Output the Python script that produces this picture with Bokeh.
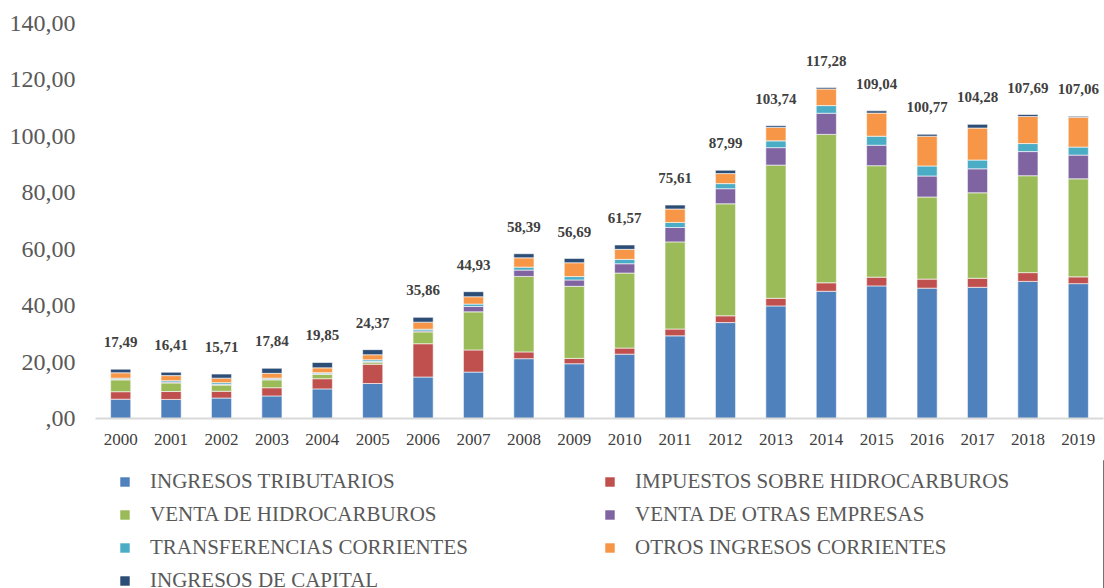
from bokeh.plotting import figure
from bokeh.models import ColumnDataSource, FactorRange, Legend, LegendItem, Range1d
from bokeh.layouts import column
from bokeh.core.properties import value
from bokeh.embed import file_html
from bokeh.resources import INLINE

years = ["2000", "2001", "2002", "2003", "2004", "2005", "2006", "2007", "2008", "2009",
         "2010", "2011", "2012", "2013", "2014", "2015", "2016", "2017", "2018", "2019"]

ingresos_tributarios = [6.85, 6.76, 7.25, 8.00, 10.50, 12.40, 14.70, 16.45, 21.20, 19.40,
                        22.80, 29.30, 34.00, 39.90, 45.10, 47.00, 46.20, 46.50, 48.60, 47.80]
impuestos_hidrocarburos = [2.65, 2.80, 2.40, 2.90, 3.60, 6.85, 11.80, 7.85, 2.40, 1.90,
                           2.15, 2.40, 2.40, 2.70, 3.00, 3.10, 3.20, 3.20, 3.10, 2.40]
venta_hidrocarburos = [4.20, 3.04, 2.20, 2.80, 1.55, 0.70, 4.20, 13.50, 26.75, 25.55,
                       26.60, 30.90, 39.70, 47.20, 52.60, 39.50, 29.10, 30.30, 34.35, 34.75]
venta_otras_empresas = [0.20, 0.30, 0.25, 0.25, 0.25, 0.25, 0.35, 1.90, 2.25, 2.25,
                        3.30, 5.10, 5.35, 6.20, 7.50, 7.25, 7.45, 8.50, 8.55, 8.40]
transferencias_corrientes = [0.40, 0.50, 0.60, 0.35, 0.35, 0.60, 0.60, 0.85, 1.05, 1.20,
                             1.55, 1.80, 1.80, 2.40, 2.70, 3.20, 3.55, 3.10, 2.85, 2.85]
otros_ingresos_corrientes = [1.90, 1.80, 1.60, 1.70, 1.70, 1.80, 2.50, 2.60, 3.30, 4.90,
                             3.55, 4.75, 3.55, 4.75, 5.90, 8.20, 10.55, 11.35, 9.60, 10.55]
ingresos_capital = [1.30, 1.20, 1.45, 1.80, 1.90, 1.80, 1.70, 1.80, 1.45, 1.55,
                    1.55, 1.40, 1.20, 0.60, 0.50, 0.80, 0.70, 1.30, 0.70, 0.35]

totals = [17.49, 16.41, 15.71, 17.84, 19.85, 24.37, 35.86, 44.93, 58.39, 56.69,
          61.57, 75.61, 87.99, 103.74, 117.28, 109.04, 100.77, 104.28, 107.69, 107.06]

series_names = ["INGRESOS TRIBUTARIOS", "IMPUESTOS SOBRE HIDROCARBUROS",
                "VENTA DE HIDROCARBUROS", "VENTA DE OTRAS EMPRESAS",
                "TRANSFERENCIAS CORRIENTES", "OTROS INGRESOS CORRIENTES",
                "INGRESOS DE CAPITAL"]
colors = ["#4F81BD", "#C0504D", "#9BBB59", "#8064A2", "#4BACC6", "#F79646", "#2C4D75"]

y_ticks = [0, 20, 40, 60, 80, 100, 120, 140]
y_tick_labels = [",00", "20,00", "40,00", "60,00", "80,00", "100,00", "120,00", "140,00"]

keys = ["s0", "s1", "s2", "s3", "s4", "s5", "s6"]
data = dict(years=years)
for k, arr in zip(keys, [ingresos_tributarios, impuestos_hidrocarburos, venta_hidrocarburos,
                         venta_otras_empresas, transferencias_corrientes,
                         otros_ingresos_corrientes, ingresos_capital]):
    data[k] = arr
source = ColumnDataSource(data)

FONT = "Liberation Serif"

# ---- chart ----
p = figure(x_range=FactorRange(*years, range_padding=0), y_range=(0, 140),
           width=1104, height=460, output_backend="svg", toolbar_location=None,
           min_border_left=95, min_border_right=1, min_border_top=23, min_border_bottom=42)
p.outline_line_color = None
p.background_fill_color = "white"
p.border_fill_color = "white"
p.xgrid.grid_line_color = None
p.ygrid.grid_line_color = None

renderers = p.vbar_stack(keys, x="years", width=0.4, source=source, color=colors,
                         line_color="white", line_width=0.6)

labels_src = ColumnDataSource(dict(years=years, y=totals,
                                   txt=[f"{t:.2f}".replace(".", ",") for t in totals]))
p.text(x="years", y="y", text="txt", source=labels_src, y_offset=-27,
       text_align="center", text_baseline="middle", text_font=value(FONT),
       text_font_size="15px", text_font_style="bold", text_color="#404040")

p.yaxis.ticker = y_ticks
p.yaxis.major_label_overrides = {t: l for t, l in zip(y_ticks, y_tick_labels)}
p.yaxis.axis_line_color = None
p.yaxis.major_tick_line_color = None
p.yaxis.minor_tick_line_color = None
p.yaxis.major_tick_out = 0
p.yaxis.major_label_standoff = 20
p.yaxis.major_label_text_font = FONT
p.yaxis.major_label_text_font_size = "24px"
p.yaxis.major_label_text_color = "#595959"

p.xaxis.axis_line_color = "#D9D9D9"
p.xaxis.axis_line_width = 2
p.xaxis.major_tick_line_color = None
p.xaxis.minor_tick_line_color = None
p.xaxis.major_tick_out = 0
p.xaxis.major_label_standoff = 15
p.xaxis.major_label_text_font = FONT
p.xaxis.major_label_text_font_size = "17px"
p.xaxis.major_label_text_color = "#404040"

# ---- legend panel ----
lg = figure(width=1104, height=128, output_backend="svg", toolbar_location=None,
            x_range=Range1d(0, 1), y_range=Range1d(0, 1),
            x_axis_type=None, y_axis_type=None, min_border=0)
lg.outline_line_color = None
lg.xgrid.grid_line_color = None
lg.ygrid.grid_line_color = None
# swatch renderers, placed outside the visible range so only the legend shows them
lg_renderers = [lg.vbar(x=[5], top=[1], width=0.1, fill_color=c, line_color=c,
                        line_width=0.6) for c in colors]

# column-major fill, so order items to read row by row like the reference
order = [0, 2, 4, 6, 1, 3, 5]
items = [LegendItem(label=series_names[i], renderers=[lg_renderers[i]], index=0) for i in order]
legend = Legend(items=items, ncols=2, location=(24, -5),
                glyph_width=11, glyph_height=11, label_standoff=20,
                label_width=446, label_height=23,
                spacing=8, padding=0, margin=0,
                label_text_font=FONT, label_text_font_size="21px",
                label_text_color="#595959", border_line_color=None,
                background_fill_alpha=0, click_policy="none")
lg.add_layout(legend, "center")

layout = column(p, lg, spacing=0)
open("out.html", "w").write(file_html(layout, INLINE))
